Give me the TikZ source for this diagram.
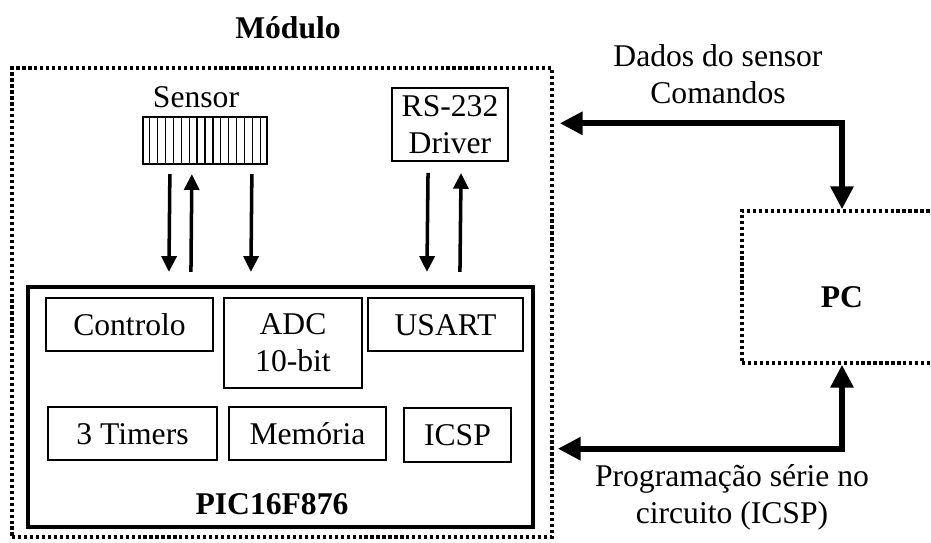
\documentclass[tikz,border=0pt]{standalone}
\usepackage{fontspec}
\setmainfont{Liberation Serif}
\usetikzlibrary{positioning,arrows.meta,calc}

\begin{document}
\begin{tikzpicture}[x=0.02cm,y=-0.02cm,
        every node/.style={font=\fontsize{18}{21}\selectfont},
        bold/.style={font=\fontsize{18}{21}\selectfont\bfseries},
        blk/.style={draw, line width=1.1pt, inner sep=0pt, align=center},
        one/.style={text height=14.5pt, text depth=2.5pt},
        dotbox/.style={draw, line width=2pt, dash pattern=on 1.8pt off 1.6pt, inner sep=0pt},
        smalltip/.tip={Triangle[length=9pt,width=8.5pt]},
        bigtip/.tip={Triangle[length=13pt,width=12.5pt]},
        arr/.style={line width=2pt},
        link/.style={line width=3.4pt, bigtip-bigtip}]
        \clip (0,0) rectangle (931,543);
        % module and its parts
        \node[dotbox, minimum width=10.8cm, minimum height=9.38cm] (mod) at (282,302.5) {};
        \node[bold] (modt) at (288,28) {Módulo};
        \node[blk, line width=1.3pt, minimum width=2.48cm, minimum height=0.94cm] (sens) at (205,140.5) {};
        \foreach \i in {1,...,15}{\draw[line width=0.7pt] ($(sens.north west)!\i/16!(sens.north east)$) -- ($(sens.south west)!\i/16!(sens.south east)$);}
        \node (senst) at (196,97) {Sensor};
        \node[blk, minimum width=2.32cm, minimum height=1.46cm] (drv) at (450,124.5) {RS-232\\Driver};
        \node[blk, line width=2.4pt, minimum width=10.1cm, minimum height=4.8cm] (pic) at (280.5,407) {};
        \node[blk, one, minimum width=3.34cm, minimum height=1.06cm] (ctrl) at (129.5,324.5) {Controlo};
        \node[blk, minimum width=2.76cm, minimum height=1.8cm] (adc) at (293,343) {ADC\\10-bit};
        \node[blk, one, minimum width=3.1cm, minimum height=1.06cm] (usart) at (445.5,324.5) {USART};
        \node[blk, one, minimum width=3.38cm, minimum height=1.06cm] (tmr) at (132.5,433.5) {3 Timers};
        \node[blk, one, minimum width=3.14cm, minimum height=1.06cm] (mem) at (307.5,433.5) {Memória};
        \node[blk, one, minimum width=2.14cm, minimum height=1.08cm] (icsp) at (457.5,435) {ICSP};
        \node[bold] (pict) at (272,504) {PIC16F876};
        % sensor and driver lines
        \foreach \a/\b/\d in {28/143/-smalltip, 50/165/smalltip-, 110/225/-smalltip}{\draw[arr,\d] ($(sens.south west)+(\a,9)$) -- ($(pic.north west)+(\b,-13)$);}
        \foreach \a/\b/\d in {37/401/-smalltip, 70/434/smalltip-}{\draw[arr,\d] ($(drv.south west)+(\a,11)$) -- ($(pic.north west)+(\b,-13)$);}
        % pc
        \node[dotbox, minimum width=4cm, minimum height=3.04cm] (pc) at (842,287) {};
        \node[bold] (pct) at (842,297) {PC};
        \draw[link] ($(mod.north east)+(6,57)$) -| (pc.north);
        \draw[link] ($(mod.south east)+(4,-90)$) -| (pc.south);
        \node[align=center] (datat) at (718,74) {Dados do sensor\\Comandos};
        \node[align=center] (progt) at (732,497) {Programação série no\\circuito (ICSP)};
\end{tikzpicture}
\end{document}
